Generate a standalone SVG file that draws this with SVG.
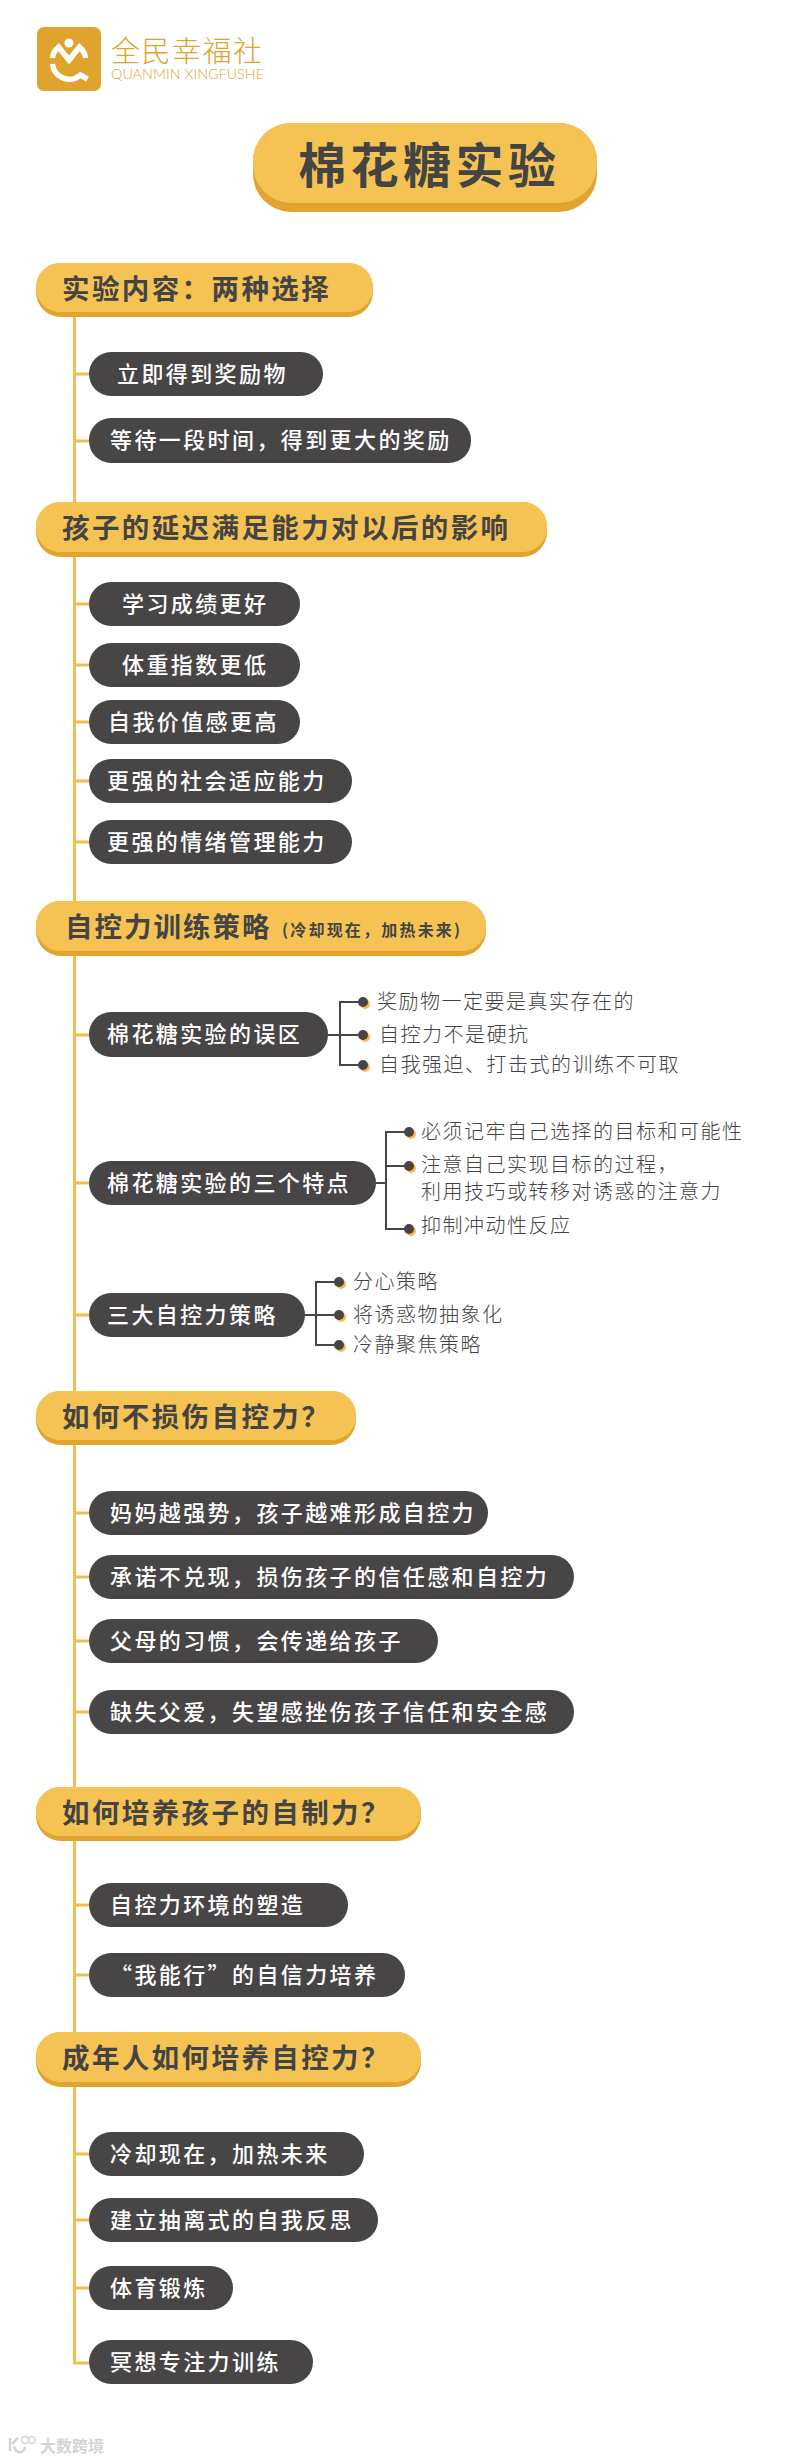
<svg xmlns="http://www.w3.org/2000/svg" width="800" height="2461" viewBox="0 0 800 2461">
<style>
text{font-family:"Noto Sans CJK SC","Noto Sans",sans-serif}
.hs{fill:#e3a32f}.hf{fill:#f5c354}
.ht{fill:#444;font-size:27.500px;font-weight:700;letter-spacing:2.400px}
.n{fill:#474546}
.nt{fill:#fff;font-size:22px;font-weight:500;letter-spacing:2.400px}
.l{fill:#444;font-size:20px;font-weight:300;letter-spacing:1.500px}
.tr{fill:none;stroke:#f3bd4f;stroke-width:3}
.br{fill:none;stroke:#474546;stroke-width:2}
.dy{fill:#f3bd4f}.dd{fill:#474546}
</style>
<rect width="800" height="2461" fill="#fff"/>
<g id="connectors">
<path class="tr" d="M74.500 317V2363H89"/>
<path class="tr" d="M74 374H89M74 441H89M74 604H89M74 665H89M74 722H89M74 781H89M74 842H89M74 1035H89M74 1183H89M74 1315H89M74 1513H89M74 1577H89M74 1641H89M74 1712H89M74 1905H89M74 1975H89M74 2154H89M74 2220H89M74 2288H89"/>
<path class="br" d="M328 1035H361M361 1002H340V1065H361M376 1183H386M406 1132H386V1229H406M386 1166H406M305 1315H336M336 1282H316V1345H336"/>
</g>
<g id="logo">
<rect x="37" y="27" width="64" height="64" rx="7" fill="#e0a32e"/>
<path d="M52.500 64a17 17 0 0 0 28 11l7 4" fill="none" stroke="#fff" stroke-width="5.500"/>
<path d="M52.500 58a17 17 0 0 1 6-11l10.500 13 10.500-13a17 17 0 0 1 6 11" fill="none" stroke="#fff" stroke-width="5.500"/>
<circle cx="69" cy="43" r="4.500" fill="#fff"/>
<text x="111" y="62" fill="#e0a32e" style="font-size:29px;font-weight:300;letter-spacing:1.500px">全民幸福社</text>
<text x="111" y="79" fill="#e0a32e" textLength="153" lengthAdjust="spacingAndGlyphs" style="font-size:13.500px;font-family:'Lato',sans-serif;font-weight:300">QUANMIN XINGFUSHE</text>
</g>
<g id="title">
<rect x="253" y="123" width="344" height="89" rx="38" class="hs"/>
<rect x="253" y="123" width="344" height="80" rx="38" class="hf"/>
<text x="298" y="183" style="fill:#444;font-size:48px;font-weight:700;letter-spacing:4.500px">棉花糖实验</text>
</g>
<g id="h1"><rect x="36" y="263" width="337" height="54" rx="25" class="hs"/><rect x="36" y="263" width="337" height="49" rx="24" class="hf"/><text x="62" y="299" class="ht">实验内容：两种选择</text></g>
<g id="n1-1"><rect x="89" y="352" width="234" height="44" rx="22" class="n"/><text x="117" y="382" class="nt">立即得到奖励物</text></g>
<g id="n1-2"><rect x="89" y="418" width="382" height="45" rx="22" class="n"/><text x="110" y="448" class="nt">等待一段时间，得到更大的奖励</text></g>
<g id="h2"><rect x="36" y="502" width="511" height="55" rx="25" class="hs"/><rect x="36" y="502" width="511" height="50" rx="24" class="hf"/><text x="62" y="538" class="ht">孩子的延迟满足能力对以后的影响</text></g>
<g id="n2-1"><rect x="89" y="582" width="211" height="44" rx="22" class="n"/><text x="122" y="612" class="nt">学习成绩更好</text></g>
<g id="n2-2"><rect x="89" y="643" width="211" height="44" rx="22" class="n"/><text x="122" y="673" class="nt">体重指数更低</text></g>
<g id="n2-3"><rect x="89" y="700" width="211" height="44" rx="22" class="n"/><text x="108" y="730" class="nt">自我价值感更高</text></g>
<g id="n2-4"><rect x="89" y="759" width="263" height="44" rx="22" class="n"/><text x="107" y="789" class="nt">更强的社会适应能力</text></g>
<g id="n2-5"><rect x="89" y="820" width="263" height="44" rx="22" class="n"/><text x="107" y="850" class="nt">更强的情绪管理能力</text></g>
<g id="h3"><rect x="36" y="901" width="450" height="55" rx="25" class="hs"/><rect x="36" y="901" width="450" height="50" rx="24" class="hf"/><text x="65" y="937" class="ht" style="letter-spacing:2px">自控力训练策略</text><text x="282" y="936" style="fill:#444;font-size:16px;font-weight:700;letter-spacing:2.200px">(冷却现在，加热未来)</text></g>
<g id="n3-1"><rect x="89" y="1012" width="239" height="45" rx="22" class="n"/><text x="107" y="1042" class="nt">棉花糖实验的误区</text></g>
<g id="n3-2"><rect x="89" y="1161" width="287" height="44" rx="22" class="n"/><text x="107" y="1191" class="nt">棉花糖实验的三个特点</text></g>
<g id="n3-3"><rect x="89" y="1293" width="216" height="44" rx="22" class="n"/><text x="107" y="1323" class="nt">三大自控力策略</text></g>
<g id="bullets">
<g id="b1"><circle cx="365" cy="1004" r="5" class="dy"/><circle cx="363" cy="1002" r="5" class="dd"/><text x="377" y="1009" class="l">奖励物一定要是真实存在的</text></g>
<g id="b2"><circle cx="365" cy="1037" r="5" class="dy"/><circle cx="363" cy="1035" r="5" class="dd"/><text x="379" y="1042" class="l">自控力不是硬抗</text></g>
<g id="b3"><circle cx="365" cy="1067" r="5" class="dy"/><circle cx="363" cy="1065" r="5" class="dd"/><text x="379" y="1072" class="l">自我强迫、打击式的训练不可取</text></g>
<g id="b4"><circle cx="411" cy="1134" r="5" class="dy"/><circle cx="409" cy="1132" r="5" class="dd"/><text x="421" y="1139" class="l">必须记牢自己选择的目标和可能性</text></g>
<g id="b5"><circle cx="411" cy="1168" r="5" class="dy"/><circle cx="409" cy="1166" r="5" class="dd"/><text x="421" y="1172" class="l">注意自己实现目标的过程，</text><text x="421" y="1199" class="l">利用技巧或转移对诱惑的注意力</text></g>
<g id="b6"><circle cx="411" cy="1231" r="5" class="dy"/><circle cx="409" cy="1229" r="5" class="dd"/><text x="421" y="1233" class="l">抑制冲动性反应</text></g>
<g id="b7"><circle cx="341" cy="1284" r="5" class="dy"/><circle cx="339" cy="1282" r="5" class="dd"/><text x="353" y="1289" class="l">分心策略</text></g>
<g id="b8"><circle cx="341" cy="1317" r="5" class="dy"/><circle cx="339" cy="1315" r="5" class="dd"/><text x="353" y="1322" class="l">将诱惑物抽象化</text></g>
<g id="b9"><circle cx="341" cy="1347" r="5" class="dy"/><circle cx="339" cy="1345" r="5" class="dd"/><text x="353" y="1352" class="l">冷静聚焦策略</text></g>
</g>
<g id="h4"><rect x="36" y="1391" width="320" height="54" rx="25" class="hs"/><rect x="36" y="1391" width="320" height="49" rx="24" class="hf"/><text x="62" y="1427" class="ht">如何不损伤自控力？</text></g>
<g id="n4-1"><rect x="89" y="1491" width="399" height="44" rx="22" class="n"/><text x="110" y="1521" class="nt">妈妈越强势，孩子越难形成自控力</text></g>
<g id="n4-2"><rect x="89" y="1555" width="485" height="44" rx="22" class="n"/><text x="110" y="1585" class="nt">承诺不兑现，损伤孩子的信任感和自控力</text></g>
<g id="n4-3"><rect x="89" y="1619" width="349" height="44" rx="22" class="n"/><text x="110" y="1649" class="nt">父母的习惯，会传递给孩子</text></g>
<g id="n4-4"><rect x="89" y="1690" width="485" height="44" rx="22" class="n"/><text x="110" y="1720" class="nt">缺失父爱，失望感挫伤孩子信任和安全感</text></g>
<g id="h5"><rect x="36" y="1787" width="385" height="54" rx="25" class="hs"/><rect x="36" y="1787" width="385" height="49" rx="24" class="hf"/><text x="62" y="1823" class="ht">如何培养孩子的自制力？</text></g>
<g id="n5-1"><rect x="89" y="1883" width="259" height="44" rx="22" class="n"/><text x="110" y="1913" class="nt">自控力环境的塑造</text></g>
<g id="n5-2"><rect x="89" y="1953" width="316" height="44" rx="22" class="n"/><text x="110" y="1983" class="nt">“我能行”的自信力培养</text></g>
<g id="h6"><rect x="36" y="2032" width="385" height="55" rx="25" class="hs"/><rect x="36" y="2032" width="385" height="50" rx="24" class="hf"/><text x="62" y="2068" class="ht">成年人如何培养自控力？</text></g>
<g id="n6-1"><rect x="89" y="2132" width="275" height="44" rx="22" class="n"/><text x="110" y="2162" class="nt">冷却现在，加热未来</text></g>
<g id="n6-2"><rect x="89" y="2198" width="289" height="44" rx="22" class="n"/><text x="110" y="2228" class="nt">建立抽离式的自我反思</text></g>
<g id="n6-3"><rect x="89" y="2266" width="144" height="44" rx="22" class="n"/><text x="110" y="2296" class="nt">体育锻炼</text></g>
<g id="n6-4"><rect x="89" y="2340" width="224" height="44" rx="22" class="n"/><text x="110" y="2370" class="nt">冥想专注力训练</text></g>
<g id="watermark">
<path d="M10 2438V2451M12 2444L18 2438M14 2446C16 2455 24 2453 25 2447" fill="none" stroke="#d4d4d4" stroke-width="2.500"/>
<circle cx="25" cy="2440" r="3.500" fill="none" stroke="#d4d4d4" stroke-width="1.500"/><circle cx="32" cy="2440" r="3.500" fill="none" stroke="#d4d4d4" stroke-width="1.500"/>
<text x="40" y="2452" style="fill:#d4d4d4;font-size:16px;font-weight:700">大数跨境</text>
</g>
</svg>
